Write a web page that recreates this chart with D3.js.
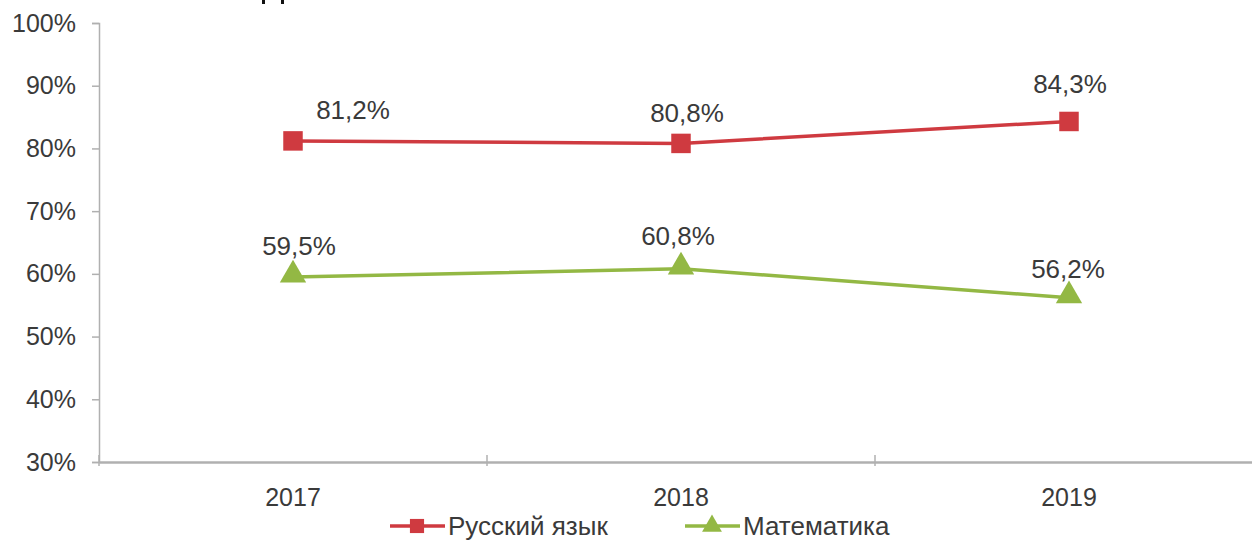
<!DOCTYPE html>
<html>
<head>
<meta charset="utf-8">
<script src="https://cdn.jsdelivr.net/npm/d3@7/dist/d3.min.js"></script>
<style>
  html, body { margin: 0; padding: 0; background: #fff; }
  svg { display: block; font-family: "Liberation Sans", Arial, sans-serif; }
</style>
</head>
<body>
<svg id="chart" width="1252" height="545"></svg>
<script>
const years = ["2017", "2018", "2019"];
const russian = [81.2, 80.8, 84.3];
const math = [59.5, 60.8, 56.2];
const russianLabels = ["81,2%", "80,8%", "84,3%"];
const mathLabels = ["59,5%", "60,8%", "56,2%"];
const yTicks = [30, 40, 50, 60, 70, 80, 90, 100];
const seriesNames = ["Русский язык", "Математика"];

const plotLeft = 99, plotRight = 1263, plotTop = 23, plotBottom = 462;
const red = "#CF3A40", green = "#93B844", axisCol = "#B0B0B0", textCol = "#3A3A3A";

const svg = d3.select("#chart");

// remnant strokes of a title cut off above the picture
svg.append("g").selectAll("rect").data([262, 281]).join("rect")
  .attr("x", d => d).attr("y", 0).attr("width", 3).attr("height", 4).attr("fill", "#111");

const x = d3.scaleBand().domain(years).range([plotLeft, plotRight]).padding(0);
const y = d3.scaleLinear().domain([30, 100]).range([plotBottom, plotTop]);

// Y axis
const yAxis = d3.axisLeft(y).tickValues(yTicks).tickSize(7).tickPadding(16)
  .tickFormat(d => d + "%");
const gy = svg.append("g").attr("transform", `translate(${plotLeft},0)`).call(yAxis);
gy.select(".domain").attr("stroke", axisCol).attr("stroke-width", 1.5);
gy.selectAll(".tick line").attr("stroke", axisCol).attr("stroke-width", 1.5);
gy.selectAll(".tick text").attr("font-size", 25).attr("fill", textCol)
  .attr("font-family", "Liberation Sans, Arial, sans-serif");

// X axis
const xAxis = d3.axisBottom(x).tickSize(0).tickPadding(26);
const gx = svg.append("g").attr("transform", `translate(0,${plotBottom})`).call(xAxis);
gx.select(".domain").attr("stroke", axisCol).attr("stroke-width", 2.5);
gx.selectAll(".tick text").attr("font-size", 25).attr("fill", textCol)
  .attr("font-family", "Liberation Sans, Arial, sans-serif");
// category boundary tick marks
const bounds = years.slice(1).map(c => x(c)).concat([plotLeft]);
svg.append("g").selectAll("line").data(bounds).join("line")
  .attr("x1", d => d).attr("x2", d => d)
  .attr("y1", plotBottom - 7).attr("y2", plotBottom + 4)
  .attr("stroke", axisCol).attr("stroke-width", 1.5);

const cx = d => x(d) + x.bandwidth() / 2;
const line = d3.line().x((d, i) => cx(years[i])).y(d => y(d));

// series
function drawSeries(vals, labels, color, shape, nudges) {
  svg.append("path").datum(vals).attr("d", line)
    .attr("fill", "none").attr("stroke", color).attr("stroke-width", 3.5);
  const sym = d3.symbol().type(shape).size(shape === d3.symbolSquare ? 380 : 300);
  svg.append("g").selectAll("path").data(vals).join("path")
    .attr("d", sym)
    .attr("transform", (d, i) => `translate(${cx(years[i])},${y(d) + (shape === d3.symbolSquare ? 0 : -2)})`)
    .attr("fill", color);
  svg.append("g").selectAll("text").data(vals).join("text")
    .attr("x", (d, i) => cx(years[i]) + nudges[i][0])
    .attr("y", (d, i) => y(d) - 22 + nudges[i][1])
    .attr("text-anchor", "middle").attr("font-size", 26).attr("fill", textCol)
    .text((d, i) => labels[i]);
}
drawSeries(russian, russianLabels, red, d3.symbolSquare, [[60, 0], [6, 1], [1, -6]]);
drawSeries(math, mathLabels, green, d3.symbolTriangle, [[6, 0], [-3, -2], [-1, 2]]);

// legend
const legend = [
  { name: seriesNames[0], color: red, shape: d3.symbolSquare, x0: 390 },
  { name: seriesNames[1], color: green, shape: d3.symbolTriangle, x0: 685 }
];
const lg = svg.append("g").selectAll("g").data(legend).join("g")
  .attr("transform", d => `translate(${d.x0},526)`);
lg.append("line").attr("x1", 0).attr("x2", 55).attr("y1", 0).attr("y2", 0)
  .attr("stroke", d => d.color).attr("stroke-width", 3.5);
lg.append("path")
  .attr("d", d => d3.symbol().type(d.shape).size(d.shape === d3.symbolSquare ? 200 : 170)())
  .attr("transform", "translate(27,0)").attr("fill", d => d.color);
lg.append("text").attr("x", 58).attr("y", 9).attr("font-size", 26).attr("fill", textCol)
  .text(d => d.name);
</script>
</body>
</html>
